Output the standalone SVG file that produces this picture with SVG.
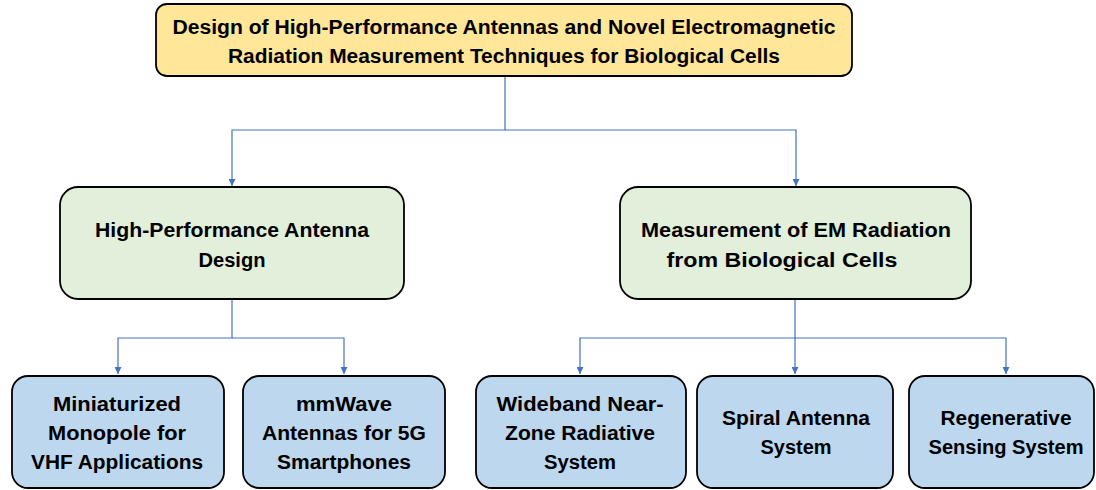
<svg xmlns="http://www.w3.org/2000/svg" width="1096" height="490" viewBox="0 0 1096 490">
<defs>
<style>
.box{stroke:#000;stroke-width:1.8}
.gold{fill:#FFE699}
.green{fill:#E2EFDA}
.blue{fill:#BDD7EE}
.t{font-family:"Liberation Sans",Arial,sans-serif;font-weight:bold;font-size:20px;fill:#000;text-anchor:middle}
.c{fill:none;stroke:#4472C4;stroke-width:1.2}
</style>
<marker id="arr" viewBox="0 0 10 10" refX="10" refY="5" markerWidth="7" markerHeight="7" markerUnits="userSpaceOnUse" orient="auto">
<path d="M0,0 L10,5 L0,10 Z" fill="#4472C4"/>
</marker>
</defs>
<rect width="1096" height="490" fill="#fff"/>
<g id="connectors">
<path class="c" d="M505,77 V130 H232 V186" marker-end="url(#arr)"/>
<path class="c" d="M505,130 H796 V186" marker-end="url(#arr)"/>
<path class="c" d="M232,300 V338 H118 V374" marker-end="url(#arr)"/>
<path class="c" d="M232,338 H344 V374" marker-end="url(#arr)"/>
<path class="c" d="M795,300 V338 H580 V374" marker-end="url(#arr)"/>
<path class="c" d="M795,338 V374" marker-end="url(#arr)"/>
<path class="c" d="M795,338 H1006 V374" marker-end="url(#arr)"/>
</g>
<g id="root">
<rect class="box gold" x="156" y="4" width="696" height="72" rx="11"/>
<text class="t" x="504" y="34" textLength="663" lengthAdjust="spacingAndGlyphs">Design of High-Performance Antennas and Novel Electromagnetic</text>
<text class="t" x="504" y="63" textLength="552" lengthAdjust="spacingAndGlyphs">Radiation Measurement Techniques for Biological Cells</text>
</g>
<g id="antenna-design">
<rect class="box green" x="60" y="187" width="344" height="112" rx="18"/>
<text class="t" x="232" y="237" textLength="274" lengthAdjust="spacingAndGlyphs">High-Performance Antenna</text>
<text class="t" x="232" y="267" textLength="67" lengthAdjust="spacingAndGlyphs">Design</text>
</g>
<g id="em-measurement">
<rect class="box green" x="620" y="187" width="351" height="112" rx="18"/>
<text class="t" x="796" y="237" textLength="310" lengthAdjust="spacingAndGlyphs">Measurement of EM Radiation</text>
<text class="t" x="782" y="267" textLength="231" lengthAdjust="spacingAndGlyphs">from Biological Cells</text>
</g>
<g id="monopole">
<rect class="box blue" x="12" y="376" width="212" height="112" rx="16"/>
<text class="t" x="117" y="411" textLength="128" lengthAdjust="spacingAndGlyphs">Miniaturized</text>
<text class="t" x="117" y="440" textLength="138" lengthAdjust="spacingAndGlyphs">Monopole for</text>
<text class="t" x="117" y="469" textLength="172" lengthAdjust="spacingAndGlyphs">VHF Applications</text>
</g>
<g id="mmwave">
<rect class="box blue" x="243" y="376" width="202" height="112" rx="16"/>
<text class="t" x="344" y="411" textLength="96" lengthAdjust="spacingAndGlyphs">mmWave</text>
<text class="t" x="344" y="440" textLength="164" lengthAdjust="spacingAndGlyphs">Antennas for 5G</text>
<text class="t" x="344" y="469" textLength="134" lengthAdjust="spacingAndGlyphs">Smartphones</text>
</g>
<g id="wideband">
<rect class="box blue" x="476" y="376" width="210" height="112" rx="16"/>
<text class="t" x="580" y="411" textLength="167" lengthAdjust="spacingAndGlyphs">Wideband Near-</text>
<text class="t" x="580" y="440" textLength="150" lengthAdjust="spacingAndGlyphs">Zone Radiative</text>
<text class="t" x="580" y="469" textLength="72" lengthAdjust="spacingAndGlyphs">System</text>
</g>
<g id="spiral">
<rect class="box blue" x="697" y="376" width="196" height="112" rx="16"/>
<text class="t" x="796" y="425" textLength="148" lengthAdjust="spacingAndGlyphs">Spiral Antenna</text>
<text class="t" x="796" y="454" textLength="71" lengthAdjust="spacingAndGlyphs">System</text>
</g>
<g id="regenerative">
<rect class="box blue" x="909" y="376" width="185" height="112" rx="16"/>
<text class="t" x="1006" y="425" textLength="131" lengthAdjust="spacingAndGlyphs">Regenerative</text>
<text class="t" x="1006" y="454" textLength="155" lengthAdjust="spacingAndGlyphs">Sensing System</text>
</g>
</svg>
